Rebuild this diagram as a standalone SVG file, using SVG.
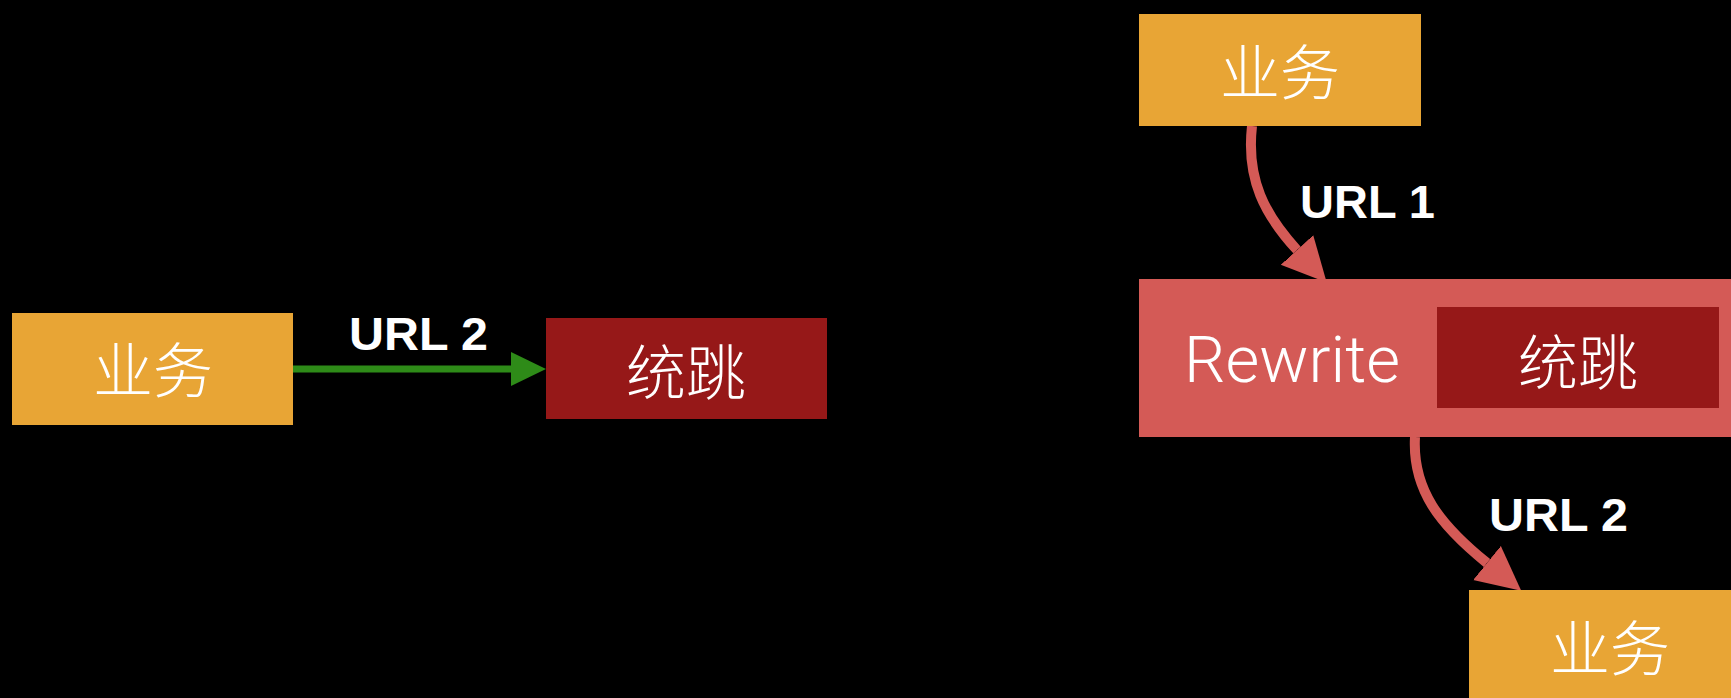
<svg xmlns="http://www.w3.org/2000/svg" width="1731" height="698" viewBox="0 0 1731 698">
<style>
.biz{fill:#e8a535}
.jump{fill:#961818}
.rw{fill:#d45a56}
.cjk{font-family:"Noto Sans CJK SC","Noto Sans",sans-serif;font-size:60px;font-weight:300;fill:#ffffff;text-anchor:middle}
.lbl{font-family:"Liberation Sans",Arial,sans-serif;font-size:47px;font-weight:bold;fill:#ffffff}
.rwt{font-family:Roboto,"Liberation Sans",sans-serif;font-size:64px;font-weight:300;fill:#ffffff}
.red{fill:none;stroke:#d45a56;stroke-width:10}
.green{fill:none;stroke:#2e8b18;stroke-width:7}
</style>
<defs>
<marker id="ah-red" markerUnits="userSpaceOnUse" markerWidth="46" markerHeight="48" viewBox="0 -24 46 48" refX="0" refY="0" orient="auto">
<path d="M0,-22 L44,0 L0,22 z" fill="#d45a56"/>
</marker>
<marker id="ah-green" markerUnits="userSpaceOnUse" markerWidth="38" markerHeight="38" viewBox="0 -19 38 38" refX="0" refY="0" orient="auto">
<path d="M0,-17 L35,0 L0,17 z" fill="#2e8b18"/>
</marker>
</defs>
<rect x="0" y="0" width="1731" height="698" fill="#000000"/>
<g id="connectors">
<path class="green" d="M293,369 L511,369" marker-end="url(#ah-green)"/>
<path class="red" d="M1252,126 C1246,180 1265,215 1297,250" marker-end="url(#ah-red)"/>
<path class="red" d="M1415,437 C1412,490 1440,525 1487,563" marker-end="url(#ah-red)"/>
</g>
<g id="labels">
<text class="lbl" x="349" y="350" textLength="139" lengthAdjust="spacingAndGlyphs">URL 2</text>
<text class="lbl" x="1300" y="218" textLength="135" lengthAdjust="spacingAndGlyphs">URL 1</text>
<text class="lbl" x="1489" y="531" textLength="139" lengthAdjust="spacingAndGlyphs">URL 2</text>
</g>
<g id="biz-left">
<rect class="biz" x="12" y="313" width="281" height="112"/>
<text class="cjk" x="153" y="393">业务</text>
</g>
<g id="jump-left">
<rect class="jump" x="546" y="318" width="281" height="101"/>
<text class="cjk" x="686" y="395">统跳</text>
</g>
<g id="biz-top">
<rect class="biz" x="1139" y="14" width="282" height="112"/>
<text class="cjk" x="1280" y="95">业务</text>
</g>
<g id="rewrite">
<rect class="rw" x="1139" y="279" width="620" height="158"/>
<text class="rwt" x="1184" y="382" textLength="216" lengthAdjust="spacingAndGlyphs">Rewrite</text>
<g id="jump-inner">
<rect class="jump" x="1437" y="307" width="282" height="101"/>
<text class="cjk" x="1578" y="385">统跳</text>
</g>
</g>
<g id="biz-bottom">
<rect class="biz" x="1469" y="590" width="282" height="112"/>
<text class="cjk" x="1610" y="671">业务</text>
</g>
</svg>
